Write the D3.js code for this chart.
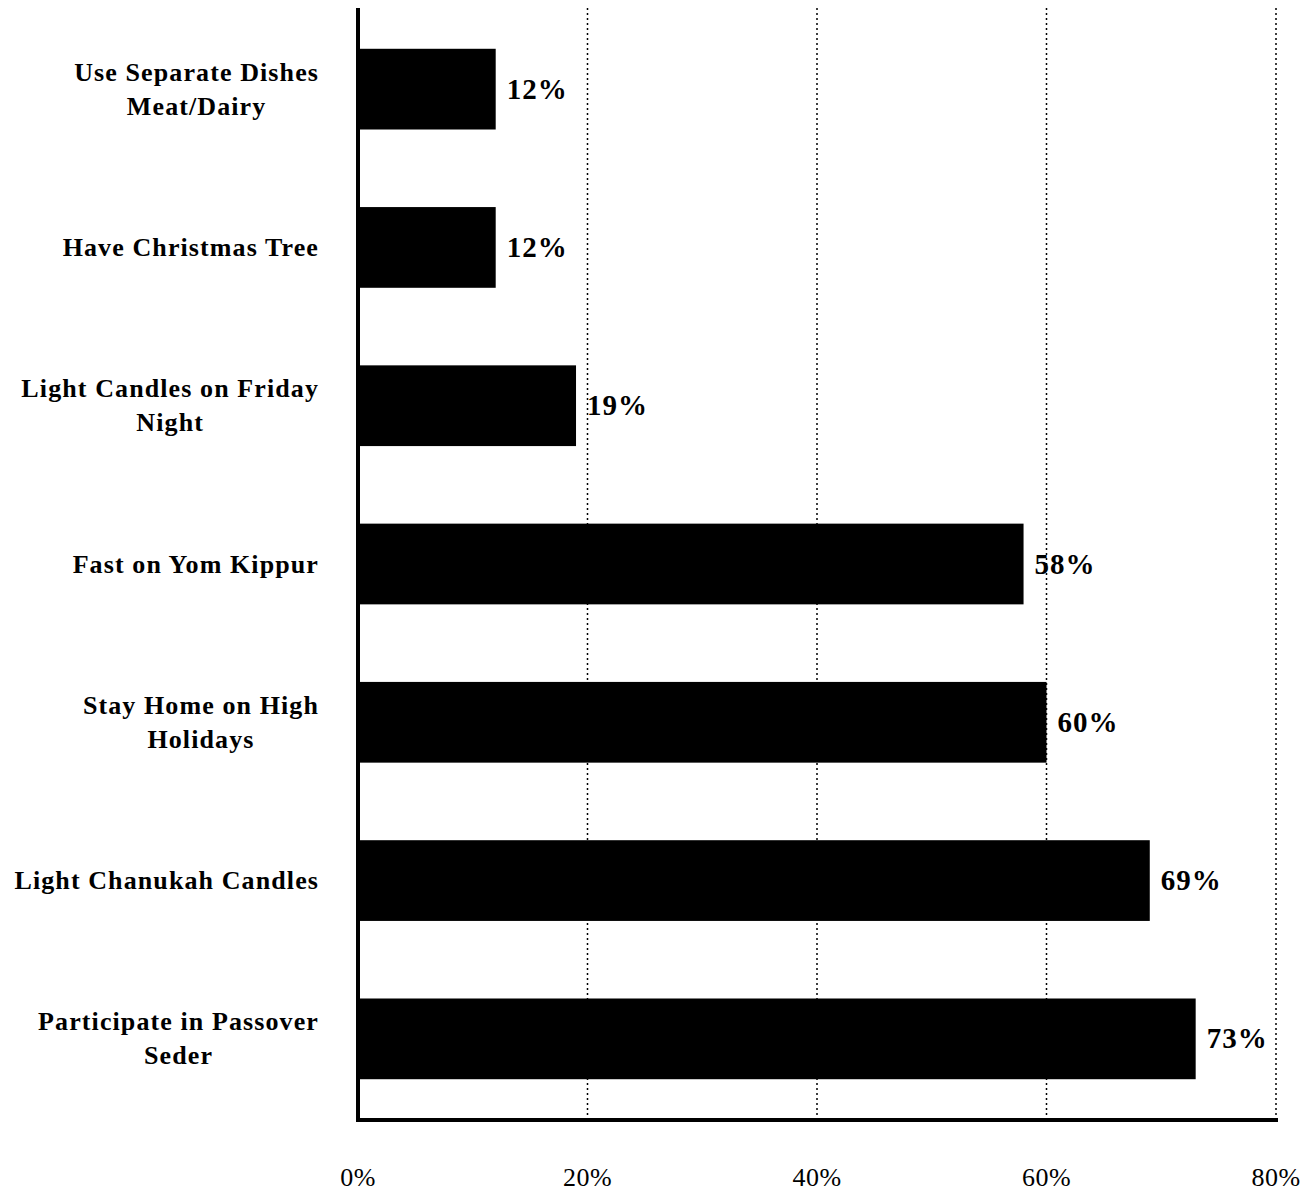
<!DOCTYPE html>
<html>
<head>
<meta charset="utf-8">
<script src="https://cdn.jsdelivr.net/npm/d3@7"></script>
<style>
body { margin: 0; background: #fff; overflow: hidden; }
svg { display: block; }
svg text { font-family: "Liberation Serif", "Times New Roman", serif; fill: #000; }
</style>
</head>
<body>
<svg id="plot"></svg>
<script>
"use strict";

var CATEGORIES = [
    ["Use Separate Dishes", "Meat/Dairy"],
    ["Have Christmas Tree"],
    ["Light Candles on Friday", "Night"],
    ["Fast on Yom Kippur"],
    ["Stay Home on High", "Holidays"],
    ["Light Chanukah Candles"],
    ["Participate in Passover", "Seder"]
];
var VALUES = [0.12, 0.12, 0.19, 0.58, 0.60, 0.69, 0.73];
var TICKS = [0, 0.2, 0.4, 0.6, 0.8];

var width = 1309, height = 1191;
var x0 = 358, x1 = 1276, ytop = 8, ybot = 1120;

var svg = d3.select("#plot").attr("width", width).attr("height", height);

var keys = CATEGORIES.map(function(d) { return d.join(" "); });

var xscale = d3.scaleLinear().domain([0, 0.8]).range([x0, x1]);
var yscale = d3.scaleBand().domain(keys).range([10, 1118])
    .paddingInner(0.49).paddingOuter(0.245);

// dotted gridlines
svg.append("g").selectAll("line")
    .data(TICKS.slice(1))
    .enter().append("line")
        .attr("x1", function(d) { return xscale(d); })
        .attr("x2", function(d) { return xscale(d); })
        .attr("y1", ytop)
        .attr("y2", ybot)
        .attr("stroke", "#000")
        .attr("stroke-width", 1.5)
        .attr("stroke-dasharray", "2,3");

// bars
svg.append("g").selectAll("rect")
    .data(VALUES)
    .enter().append("rect")
        .attr("x", x0)
        .attr("y", function(d, i) { return yscale(keys[i]); })
        .attr("width", function(d) { return xscale(d) - x0; })
        .attr("height", yscale.bandwidth())
        .attr("fill", "#000");

// value labels
svg.append("g").selectAll("text")
    .data(VALUES)
    .enter().append("text")
        .attr("x", function(d) { return xscale(d) + 11; })
        .attr("y", function(d, i) { return yscale(keys[i]) + yscale.bandwidth() / 2; })
        .attr("dy", "0.33em")
        .attr("font-size", 29)
        .attr("font-weight", "bold")
        .attr("letter-spacing", 1)
        .text(function(d) { return Math.round(d * 100) + "%"; });

// category labels
var lab = svg.append("g").selectAll("g")
    .data(CATEGORIES)
    .enter().append("g")
        .attr("transform", function(d, i) {
            return "translate(0," + (yscale(keys[i]) + yscale.bandwidth() / 2) + ")";
        });
lab.each(function(lines) {
    var g = d3.select(this);
    var t = g.append("text")
        .attr("font-size", 26)
        .attr("font-weight", "bold")
        .attr("letter-spacing", 1.1)
        .attr("text-anchor", "middle");
    var n = lines.length;
    lines.forEach(function(s, j) {
        t.append("tspan")
            .attr("x", 0)
            .attr("y", (j - (n - 1) / 2) * 34)
            .attr("dy", "0.33em")
            .text(s);
    });
    var w = t.node().getBBox().width;
    t.attr("transform", "translate(" + (319 - w / 2) + ",0)");
});

// x tick labels
svg.append("g").selectAll("text")
    .data(TICKS)
    .enter().append("text")
        .attr("x", function(d) { return xscale(d); })
        .attr("y", 1177)
        .attr("dy", "0.35em")
        .attr("text-anchor", "middle")
        .attr("font-size", 26)
        .attr("letter-spacing", 0.5)
        .text(function(d) { return Math.round(d * 100) + "%"; });

// axes
svg.append("line")
    .attr("x1", x0).attr("x2", x0)
    .attr("y1", ytop).attr("y2", ybot + 2)
    .attr("stroke", "#000").attr("stroke-width", 4);
svg.append("line")
    .attr("x1", x0 - 2).attr("x2", x1 + 2)
    .attr("y1", ybot).attr("y2", ybot)
    .attr("stroke", "#000").attr("stroke-width", 4);
</script>
</body>
</html>
